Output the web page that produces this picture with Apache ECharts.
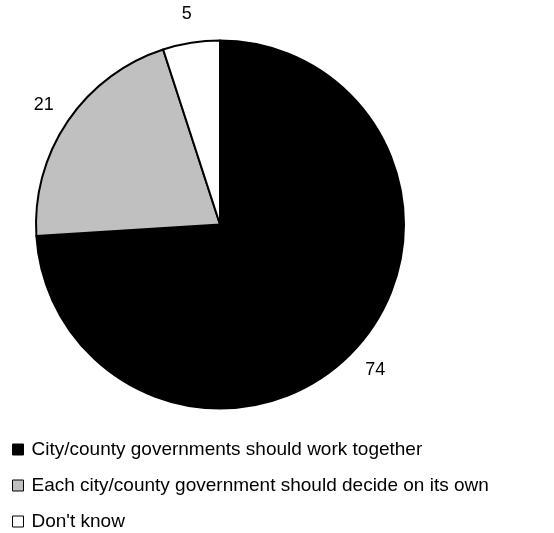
<!DOCTYPE html>
<html>
<head>
<meta charset="utf-8">
<script src="https://cdn.jsdelivr.net/npm/echarts@6/dist/echarts.min.js"></script>
<style>html,body{margin:0;padding:0;background:#fff;}#c{width:554px;height:533px;}</style>
</head>
<body>
<div id="c"></div>
<script>
const categories = ["City/county governments should work together", "Each city/county government should decide on its own", "Don't know"];
const values = [74, 21, 5];
const colors = ["#000000", "#c0c0c0", "#ffffff"];

const chart = echarts.init(document.getElementById('c'), null, {renderer: 'canvas'});
const data = categories.map((c, i) => ({name: c, value: values[i], itemStyle: {color: colors[i]}}));
const labelData = categories.map((c, i) => ({name: c, value: values[i]}));
chart.setOption({
  animation: false,
  legend: {
    orient: 'vertical', left: 12, bottom: 2, padding: 0,
    itemWidth: 11, itemHeight: 11, itemGap: 17,
    icon: 'rect',
    itemStyle: {borderColor: '#000', borderWidth: 1},
    textStyle: {fontFamily: 'Liberation Sans, Arial', fontSize: 19, lineHeight: 18, color: '#000', padding: [0,0,0,3]},
    data: categories
  },
  series: [
    {
      type: 'pie', center: [220, 224.5], radius: [0, 184], startAngle: 90, clockwise: true,
      silent: true,
      itemStyle: {borderColor: '#000', borderWidth: 2},
      label: {show: false}, labelLine: {show: false},
      data: data
    },
    {
      type: 'pie', center: [220, 224.5], radius: [0, 420], startAngle: 90, clockwise: true,
      silent: true, z: 1, legendHoverLink: false,
      itemStyle: {color: 'rgba(0,0,0,0)', borderWidth: 0},
      label: {show: true, position: 'inside', formatter: '{c}', fontFamily: 'Liberation Sans, Arial', fontSize: 18, color: '#000'},
      labelLine: {show: false},
      data: labelData
    }
  ]
});
</script>
</body>
</html>
